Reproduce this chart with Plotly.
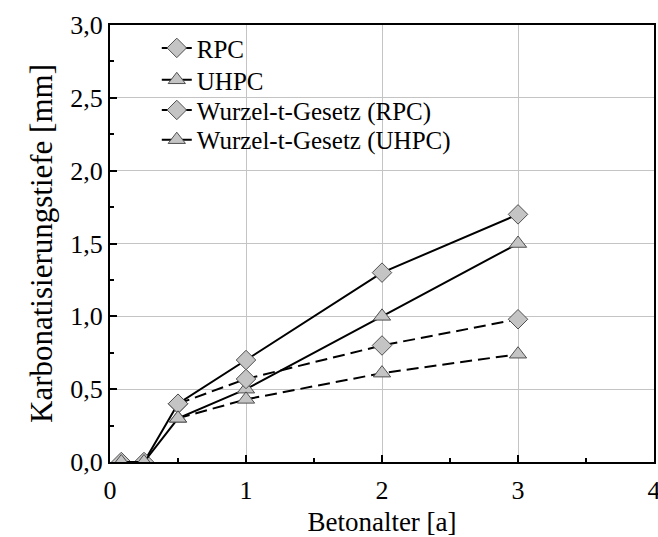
import plotly.graph_objects as go

# Data
x_rpc = [0.083, 0.25, 0.5, 1, 2, 3]
y_rpc = [0.0, 0.0, 0.40, 0.70, 1.30, 1.70]
x_uhpc = [0.083, 0.25, 0.5, 1, 2, 3]
y_uhpc = [0.0, 0.0, 0.30, 0.50, 1.00, 1.50]
x_wurzel = [0.5, 1, 2, 3]
y_wurzel_rpc = [0.40, 0.57, 0.80, 0.98]
y_wurzel_uhpc = [0.30, 0.43, 0.61, 0.74]
names = ["RPC", "UHPC", "Wurzel-t-Gesetz (RPC)", "Wurzel-t-Gesetz (UHPC)"]

FONT = "Liberation Serif"
mk_fill = "#c4c4c4"
mk_line = dict(color="#505050", width=1)
DASH = "12px,6px"

fig = go.Figure()
fig.add_trace(go.Scatter(x=x_rpc, y=y_rpc, name=names[0], mode="lines+markers", legend="legend",
                         line=dict(color="black", width=2),
                         marker=dict(symbol="diamond", size=15, color=mk_fill, line=mk_line)))
fig.add_trace(go.Scatter(x=x_uhpc, y=y_uhpc, name=names[1], mode="lines+markers", legend="legend2",
                         line=dict(color="black", width=2),
                         marker=dict(symbol="triangle-up", size=15, color=mk_fill, line=mk_line)))
fig.add_trace(go.Scatter(x=x_wurzel, y=y_wurzel_rpc, name=names[2], mode="lines+markers", legend="legend3",
                         line=dict(color="black", width=2, dash=DASH),
                         marker=dict(symbol="diamond", size=15, color=mk_fill, line=mk_line)))
fig.add_trace(go.Scatter(x=x_wurzel, y=y_wurzel_uhpc, name=names[3], mode="lines+markers", legend="legend4",
                         line=dict(color="black", width=2, dash=DASH),
                         marker=dict(symbol="triangle-up", size=15, color=mk_fill, line=mk_line)))

# white box behind legend covering the grid
fig.add_shape(type="rect", xref="x", yref="y", x0=0, x1=2.985, y0=2.012, y1=3.0,
              fillcolor="white", line=dict(width=0), layer="below")

axis_common = dict(
    showline=True, linecolor="black", linewidth=2, mirror=True,
    ticks="inside", ticklen=7, tickwidth=2, tickcolor="black",
    showgrid=True, gridcolor="#c4c4c4", gridwidth=1, zeroline=False,
    tickfont=dict(family=FONT, size=26, color="black"),
    automargin=False, ticklabeloverflow="allow",
)

fig.update_xaxes(range=[0, 4], dtick=1, tickformat="d", ticklabelstandoff=4,
                 minor=dict(ticks="inside", ticklen=4, tickwidth=2, tickcolor="black", dtick=0.5, showgrid=False),
                 title=dict(text="Betonalter [a]", font=dict(family=FONT, size=27, color="black"), standoff=14),
                 **axis_common)
fig.update_yaxes(range=[0, 3], dtick=0.5, tickformat=".1f",
                 minor=dict(ticks="inside", ticklen=4, tickwidth=2, tickcolor="black", dtick=0.25, showgrid=False),
                 title=dict(text="Karbonatisierungstiefe [mm]", font=dict(family=FONT, size=31, color="black"), standoff=8),
                 **axis_common)

leg_common = dict(x=0.086, xanchor="left", yanchor="middle",
                  bgcolor="rgba(0,0,0,0)", borderwidth=0,
                  font=dict(family=FONT, size=25, color="black"))

fig.update_layout(
    width=658, height=537,
    margin=dict(l=110, r=4, t=25, b=75),
    paper_bgcolor="white", plot_bgcolor="white",
    separators=",.",
    showlegend=True,
    legend=dict(y=0.947, **leg_common),
    legend2=dict(y=0.874, **leg_common),
    legend3=dict(y=0.805, **leg_common),
    legend4=dict(y=0.737, **leg_common),
    font=dict(family=FONT, color="black"),
)

fig.write_html("out.html")
